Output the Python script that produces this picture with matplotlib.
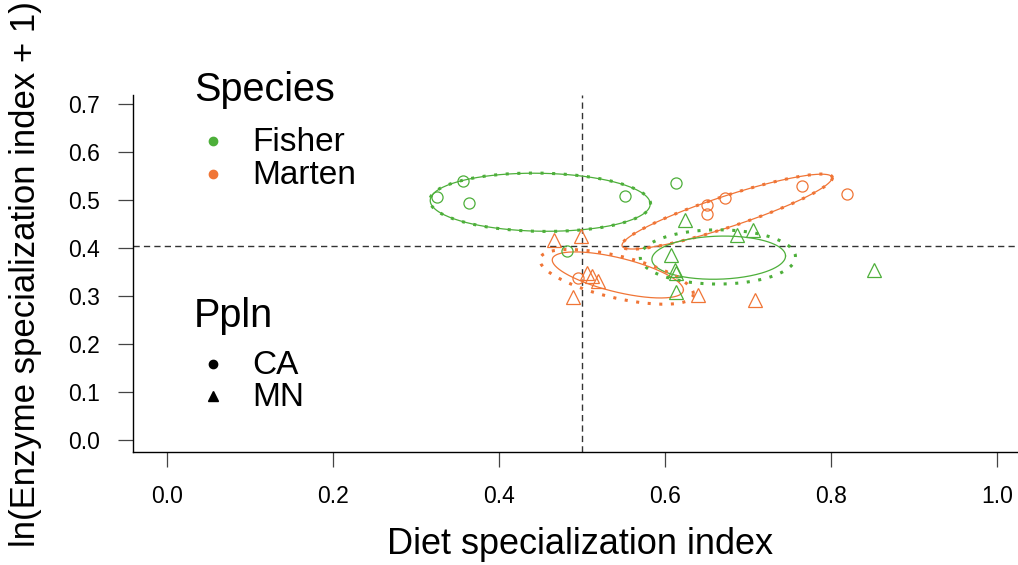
import numpy as np
import matplotlib
matplotlib.use("Agg")
import matplotlib.pyplot as plt
from matplotlib.lines import Line2D

plt.rcParams["font.family"] = ["Liberation Sans", "DejaVu Sans"]

# ---- data -------------------------------------------------------------
fisher_ca_x = [0.325, 0.357, 0.364, 0.552, 0.613, 0.482]
fisher_ca_y = [0.506, 0.540, 0.494, 0.508, 0.535, 0.393]

marten_ca_x = [0.495, 0.650, 0.650, 0.672, 0.765, 0.819]
marten_ca_y = [0.338, 0.490, 0.471, 0.504, 0.529, 0.513]

fisher_mn_x = [0.624, 0.607, 0.612, 0.613, 0.613, 0.687, 0.706, 0.852]
fisher_mn_y = [0.458, 0.385, 0.354, 0.348, 0.308, 0.427, 0.437, 0.354]

marten_mn_x = [0.466, 0.499, 0.506, 0.512, 0.519, 0.489, 0.639, 0.708]
marten_mn_y = [0.417, 0.425, 0.348, 0.342, 0.331, 0.298, 0.302, 0.292]

# standard ellipses: centre x, centre y, sd x, sd y, correlation
ellipse_groups = ["Fisher CA", "Marten CA", "Fisher MN", "Marten MN"]
ellipse_cx = [0.4495, 0.6745, 0.6645, 0.543]
ellipse_cy = [0.4955, 0.476, 0.380, 0.344]
ellipse_sx = [0.1325, 0.1265, 0.0805, 0.079]
ellipse_sy = [0.0605, 0.078, 0.045, 0.048]
ellipse_r = [-0.06, 0.90, 0.08, -0.65]

# corrected (dotted) ellipses
ellipse_c_cx = [0.4495, 0.6745, 0.6635, 0.5415]
ellipse_c_cy = [0.4955, 0.476, 0.3815, 0.340]
ellipse_c_sx = [0.1330, 0.1270, 0.0935, 0.0925]
ellipse_c_sy = [0.0608, 0.0783, 0.0565, 0.057]
ellipse_c_r = [-0.06, 0.90, 0.0, -0.62]

diet_threshold = 0.5
enzyme_threshold = 0.404

x_ticks = [0.0, 0.2, 0.4, 0.6, 0.8, 1.0]
y_ticks = [0.0, 0.1, 0.2, 0.3, 0.4, 0.5, 0.6, 0.7]

species = ["Fisher", "Marten"]
populations = ["CA", "MN"]

GREEN = "#4DAF3A"
ORANGE = "#F07536"
species_colors = {"Fisher": GREEN, "Marten": ORANGE}
ellipse_colors = [GREEN, ORANGE, GREEN, ORANGE]

# ---- figure -----------------------------------------------------------
W, H = 1018, 565
fig = plt.figure(figsize=(W / 100, H / 100), dpi=100)
ax = fig.add_axes([133 / W, 1 - 452 / H, 1 - 133 / W, (452 - 95) / H])
ax.set_xlim(-0.041, 1.025)
ax.set_ylim(-0.025, 0.719)

ax.axvline(diet_threshold, color="#333333", lw=1.0, ls=(0, (4.5, 3)), zorder=1)
ax.axhline(enzyme_threshold, color="#333333", lw=1.0, ls=(0, (4.5, 3)), zorder=1)


def ellipse_xy(cx, cy, sx, sy, r, n=240):
    t = np.linspace(0, 2 * np.pi, n)
    x = cx + sx * np.cos(t)
    y = cy + sy * (r * np.cos(t) + np.sqrt(1 - r * r) * np.sin(t))
    return x, y


for i in range(len(ellipse_groups)):
    ex, ey = ellipse_xy(ellipse_cx[i], ellipse_cy[i], ellipse_sx[i],
                        ellipse_sy[i], ellipse_r[i])
    ax.plot(ex, ey, color=ellipse_colors[i], lw=0.9, zorder=2)
    dx, dy = ellipse_xy(ellipse_c_cx[i], ellipse_c_cy[i], ellipse_c_sx[i],
                        ellipse_c_sy[i], ellipse_c_r[i])
    ax.plot(dx, dy, color=ellipse_colors[i], lw=2.2, ls=(0, (1, 2.8)),
            dash_capstyle="butt", zorder=2)

mk = dict(ls="none", markerfacecolor="none", markeredgewidth=0.9, zorder=3)
ax.plot(fisher_ca_x, fisher_ca_y, marker="o", ms=8, markeredgecolor=GREEN, **mk)
ax.plot(marten_ca_x, marten_ca_y, marker="o", ms=8, markeredgecolor=ORANGE, **mk)
ax.plot(fisher_mn_x, fisher_mn_y, marker="^", ms=10.5, markeredgecolor=GREEN, **mk)
ax.plot(marten_mn_x, marten_mn_y, marker="^", ms=10.5, markeredgecolor=ORANGE, **mk)

for side in ("top", "right"):
    ax.spines[side].set_visible(False)
for side in ("left", "bottom"):
    ax.spines[side].set_linewidth(1.0)
    ax.spines[side].set_color("black")

ax.set_xticks(x_ticks)
ax.set_xticklabels([f"{v:.1f}" for v in x_ticks])
ax.set_yticks(y_ticks)
ax.set_yticklabels([f"{v:.1f}" for v in y_ticks])
ax.tick_params(axis="both", direction="out", length=10.5, width=0.9,
               color="#444444", labelsize=16.5, pad=13)

fig.text(580 / W, 1 - 545 / H, "Diet specialization index",
         ha="center", va="center", fontsize=26)
fig.text(26 / W, 1 - 274 / H, "ln(Enzyme specialization index + 1)",
         ha="center", va="center", rotation=90, fontsize=25)

# ---- legends ----------------------------------------------------------
def fig_xy(px, py):
    return px / W, 1 - py / H


def key(px, py, marker, color, size):
    x, y = fig_xy(px, py)
    fig.add_artist(Line2D([x], [y], marker=marker, color=color, ms=size,
                          ls="none", transform=fig.transFigure))


fig.text(*fig_xy(194, 101), "Species", ha="left", va="baseline", fontsize=28.5)
for name, py in zip(species, [141, 174]):
    key(213, py, "o", species_colors[name], 6)
    fig.text(*fig_xy(252, py + 1), name, ha="left", va="center", fontsize=24)

fig.text(*fig_xy(194, 327), "Ppln", ha="left", va="baseline", fontsize=28.5)
for name, py, m, s in zip(populations, [364, 396], ["o", "^"], [6, 7.5]):
    key(213, py, m, "black", s)
    fig.text(*fig_xy(252, py + 2), name, ha="left", va="center", fontsize=24)

fig.savefig("out.png", dpi=100)
